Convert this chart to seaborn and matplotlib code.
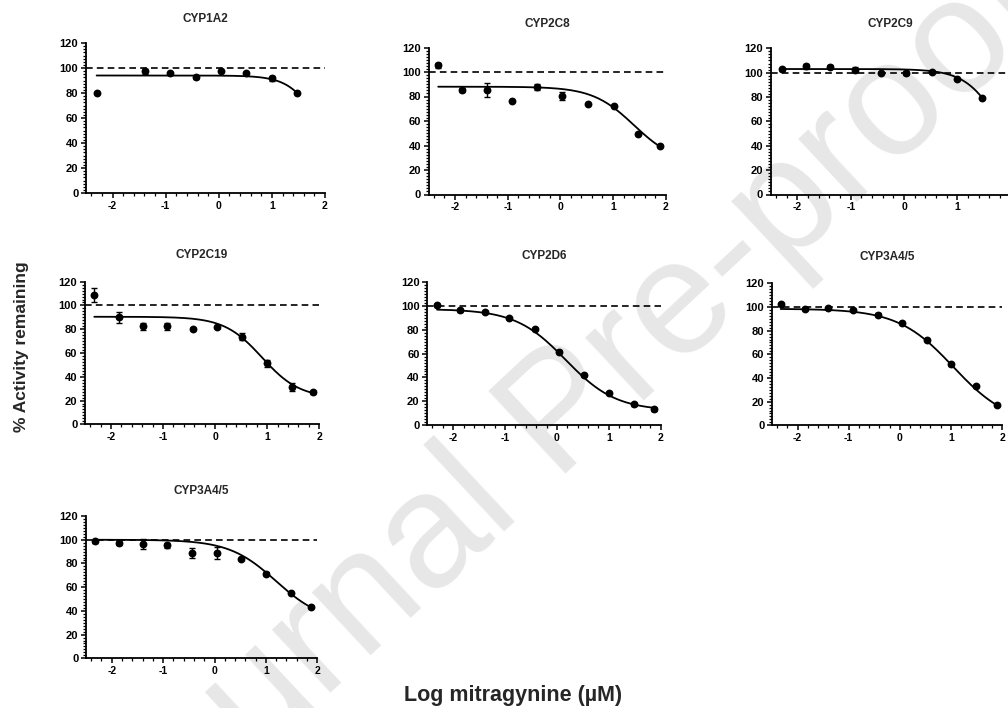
import numpy as np
import pandas as pd
import matplotlib
matplotlib.use("Agg")
import matplotlib.pyplot as plt
import seaborn as sns
from matplotlib.ticker import MultipleLocator

# ---------------- data ----------------
titles = ["CYP1A2", "CYP2C8", "CYP2C9", "CYP2C19", "CYP2D6", "CYP3A4/5", "CYP3A4/5"]

x_cyp1a2 = [-2.30, -1.39, -0.91, -0.43, 0.05, 0.52, 1.00, 1.48]
y_cyp1a2 = [80.3, 97.4, 95.8, 92.5, 97.9, 96.0, 92.0, 80.0]
e_cyp1a2 = [0, 2, 0, 1, 0, 0, 2, 0]

x_cyp2c8 = [-2.32, -1.87, -1.40, -0.91, -0.44, 0.04, 0.53, 1.01, 1.48, 1.89]
y_cyp2c8 = [105.5, 85.3, 85.3, 76.6, 87.8, 80.4, 73.6, 72.0, 49.6, 39.6]
e_cyp2c8 = [2, 2, 5.8, 0, 2.5, 3, 0, 0, 0, 0]

x_cyp2c9 = [-2.29, -1.84, -1.38, -0.92, -0.43, 0.04, 0.52, 0.99, 1.47]
y_cyp2c9 = [102.7, 105.4, 104.9, 102.4, 100.0, 99.7, 100.5, 95.1, 79.0]
e_cyp2c9 = [1.5, 2, 1, 2, 0, 1.5, 0, 0, 0]

x_cyp2c19 = [-2.32, -1.85, -1.39, -0.92, -0.43, 0.04, 0.51, 0.99, 1.47, 1.87]
y_cyp2c19 = [108.7, 89.9, 82.6, 82.6, 80.1, 82.0, 73.6, 51.2, 31.6, 26.9]
e_cyp2c19 = [5.6, 4.6, 3, 3, 1, 1, 3, 3, 3.5, 1]

x_cyp2d6 = [-2.31, -1.87, -1.39, -0.92, -0.42, 0.04, 0.53, 1.00, 1.48, 1.87]
y_cyp2d6 = [100.6, 96.3, 95.0, 90.2, 80.5, 61.8, 42.0, 27.0, 17.3, 13.1]
e_cyp2d6 = [1, 1, 1, 1, 1, 1, 1, 1, 1, 1]

x_cyp3a4_a = [-2.33, -1.86, -1.40, -0.92, -0.43, 0.05, 0.54, 1.00, 1.49, 1.90]
y_cyp3a4_a = [102.5, 98.6, 98.9, 97.2, 93.6, 86.5, 71.9, 51.4, 33.1, 17.1]
e_cyp3a4_a = [1, 1, 1, 1, 1, 1, 1, 1, 1, 1]

x_cyp3a4_b = [-2.32, -1.86, -1.40, -0.92, -0.43, 0.05, 0.52, 1.00, 1.48, 1.87]
y_cyp3a4_b = [98.6, 97.5, 96.4, 95.2, 88.8, 88.8, 83.7, 71.5, 54.9, 43.4]
e_cyp3a4_b = [1.5, 2, 4, 2, 4, 5, 0, 1, 0, 0]

# fitted four-parameter logistic curves (top, bottom, logIC50, hill)
fit_top = [94, 88, 103, 90.5, 97.5, 98.5, 100]
fit_bottom = [0, 25, 0, 22, 12, 0, 30]
fit_logic50 = [1.98, 1.40, 1.87, 0.90, 0.17, 1.05, 1.20]
fit_hill = [1.5, 1.1, 1.3, 1.2, 0.9, 0.8, 0.95]

x_ticks = [-2, -1, 0, 1, 2]
y_ticks = [0, 20, 40, 60, 80, 100, 120]

series = [
    (x_cyp1a2, y_cyp1a2, e_cyp1a2),
    (x_cyp2c8, y_cyp2c8, e_cyp2c8),
    (x_cyp2c9, y_cyp2c9, e_cyp2c9),
    (x_cyp2c19, y_cyp2c19, e_cyp2c19),
    (x_cyp2d6, y_cyp2d6, e_cyp2d6),
    (x_cyp3a4_a, y_cyp3a4_a, e_cyp3a4_a),
    (x_cyp3a4_b, y_cyp3a4_b, e_cyp3a4_b),
]

# ---------------- layout ----------------
W, H = 1008, 708
# pixel boxes: (left, right, top(120), bottom(0))
boxes = [
    (86, 325, 43, 193),
    (428.7, 665.7, 47.5, 194.5),
    (770.7, 1010.7, 48.3, 194.5),
    (84.9, 319.3, 281.7, 424.3),
    (427.2, 660.7, 282.3, 425),
    (772, 1002, 283.3, 425.3),
    (86, 317.3, 516, 658.3),
]
title_pads = [15, 15, 15, 17, 17, 17, 16]

sns.set_theme(style="ticks")
plt.rcParams["font.family"] = ["Liberation Sans", "DejaVu Sans"]
plt.rcParams["font.weight"] = "bold"

fig = plt.figure(figsize=(W / 100, H / 100), dpi=100)
fig.patch.set_facecolor("white")

# watermark
fig.text(0.56, 0.41, "Journal Pre-proof", fontsize=118, color="#e7e7e7",
         rotation=43, ha="center", va="center", zorder=-5,
         family=["Liberation Sans", "DejaVu Sans"], fontweight="normal")

for i, (xs, ys, es) in enumerate(series):
    l, r, t, b = boxes[i]
    ax = fig.add_axes([l / W, 1 - b / H, (r - l) / W, (b - t) / H])
    ax.set_facecolor("none")
    df = pd.DataFrame({"x": xs, "y": ys, "err": es})

    # fitted curve
    xc = np.linspace(min(xs), max(xs), 200)
    yc = fit_bottom[i] + (fit_top[i] - fit_bottom[i]) / (1 + 10 ** ((xc - fit_logic50[i]) * fit_hill[i]))
    sns.lineplot(x=xc, y=yc, ax=ax, color="black", lw=1.3, estimator=None, sort=False, zorder=2)

    ax.axhline(100, color="black", lw=1.2, ls=(0, (4, 2.5)), zorder=1)

    ax.errorbar(df["x"], df["y"], yerr=df["err"], fmt="none", ecolor="black",
                elinewidth=1, capsize=2.2, capthick=1, zorder=3)
    sns.scatterplot(data=df, x="x", y="y", ax=ax, color="black", s=32,
                    edgecolor="black", linewidth=0, zorder=4)

    ax.set_xlim(-2.5, 2)
    ax.set_ylim(0, 120)
    ax.set_xticks(x_ticks)
    ax.set_yticks(y_ticks)
    ax.set_xticklabels([str(v) for v in x_ticks], fontsize=7.5, fontweight="bold")
    ax.set_yticklabels([str(v) for v in y_ticks], fontsize=8, fontweight="bold")
    ax.xaxis.set_minor_locator(MultipleLocator(0.2))
    ax.yaxis.set_minor_locator(MultipleLocator(2.5))
    ax.tick_params(which="major", direction="out", length=3.5, width=1.1, pad=2, colors="black")
    ax.tick_params(which="minor", direction="out", length=2, width=0.9, colors="black")
    for s in ["top", "right"]:
        ax.spines[s].set_visible(False)
    for s in ["left", "bottom"]:
        ax.spines[s].set_linewidth(1.3)
        ax.spines[s].set_color("black")
    ax.set_xlabel("")
    ax.set_ylabel("")
    ax.set_title(titles[i], fontsize=8.5, fontweight="bold", pad=title_pads[i])

fig.text(0.021, 0.51, "% Activity remaining", rotation=90, ha="center", va="center",
         fontsize=12.5, fontweight="bold")
fig.text(0.509, 0.017, "Log mitragynine (\u00b5M)", ha="center", va="center",
         fontsize=15.5, fontweight="bold")

fig.savefig("out.png", dpi=100, facecolor="white")
